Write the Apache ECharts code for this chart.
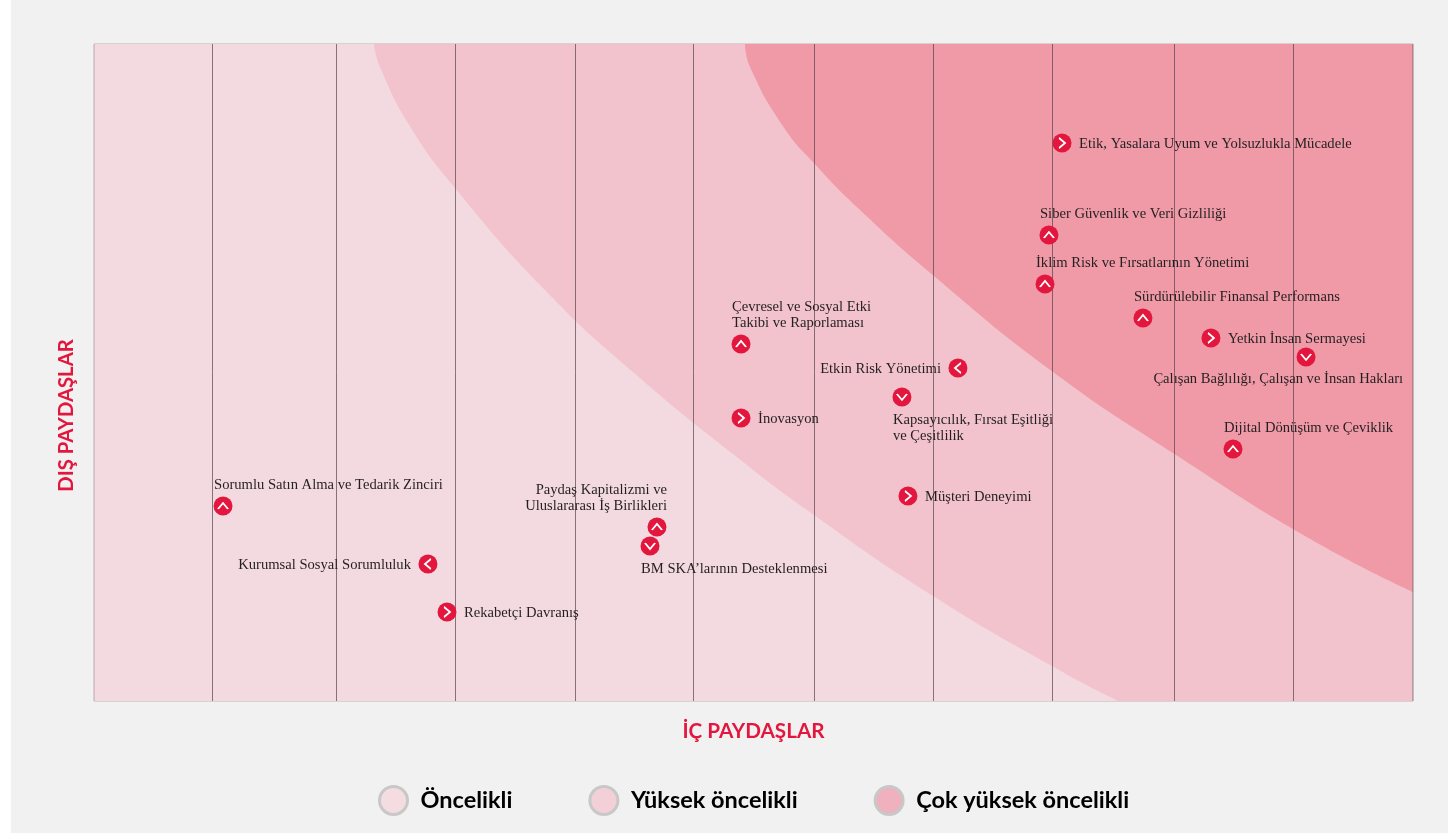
<!DOCTYPE html>
<html lang="tr">
<head>
<meta charset="utf-8">
<title>Öncelikli konular matrisi</title>
<style>
    html, body { margin: 0; padding: 0; background: #fff; overflow: hidden; }
    #mainEchart { position: absolute; left: 11px; top: 0; width: 1437px; height: 833px; }
</style>
<script src="https://cdn.jsdelivr.net/npm/echarts@6/dist/echarts.min.js"></script>
</head>
<body>
<div id="mainEchart"></div>
<script>
// konu listesi
var topicNames = [
    'Etik, Yasalara Uyum ve Yolsuzlukla Mücadele', 'Siber Güvenlik ve Veri Gizliliği',
    'İklim Risk ve Fırsatlarının Yönetimi', 'Sürdürülebilir Finansal Performans',
    'Yetkin İnsan Sermayesi', 'Çalışan Bağlılığı, Çalışan ve İnsan Hakları',
    'Dijital Dönüşüm ve Çeviklik', 'Çevresel ve Sosyal Etki\nTakibi ve Raporlaması',
    'Etkin Risk Yönetimi', 'Kapsayıcılık, Fırsat Eşitliği\nve Çeşitlilik',
    'İnovasyon', 'Müşteri Deneyimi', 'Sorumlu Satın Alma ve Tedarik Zinciri',
    'Paydaş Kapitalizmi ve\nUluslararası İş Birlikleri', 'BM SKA’larının Desteklenmesi',
    'Kurumsal Sosyal Sorumluluk', 'Rekabetçi Davranış'
];
var topicInternal = [8.073, 7.964, 7.931, 8.748, 9.315, 10.108, 9.499, 5.396, 7.205, 6.738, 5.396, 6.788, 1.076, 4.695, 4.637, 2.785, 2.944];
var topicExternal = [6.795, 5.674, 5.078, 4.664, 4.42, 4.189, 3.068, 4.347, 4.055, 3.702, 3.446, 2.496, 2.374, 2.119, 1.887, 1.668, 1.084];
var topicTrend = ['right', 'up', 'up', 'up', 'right', 'down', 'up', 'up', 'left', 'down', 'right', 'right', 'up', 'up', 'down', 'left', 'right'];
var topicLabelSide = ['right', 'above', 'above', 'above', 'right', 'belowFar', 'above', 'above', 'left', 'below', 'right', 'right', 'above', 'aboveEnd', 'below', 'left', 'right'];

// bolge sinirlari, son nokta grafigin altina iner ve kirpilir
var highBoundaryX = [2.335, 2.385, 2.635, 3.011, 3.761, 4.495, 5.329, 6.004, 6.997, 7.989, 8.54, 11];
var highBoundaryY = [8, 7.72, 7, 6.247, 5.005, 4.006, 3.008, 2.265, 1.279, 0.426, 0, -1.79];
var topBoundaryX = [5.429, 5.471, 5.746, 6.004, 6.371, 7.005, 7.998, 8.998, 10.158, 11];
var topBoundaryY = [8, 7.72, 7, 6.551, 6.003, 5.175, 4.006, 3.02, 1.96, 1.327];

// dikey cizgiler esit aralikli degil
var verticalLines = [0.9945, 2.0224, 3.0148, 4.0052, 4.9996, 6.0087, 7.0011, 7.9935, 9.011, 10.0034];
var levelNames = ['Öncelikli', 'Yüksek öncelikli', 'Çok yüksek öncelikli'];

function zipPoints(xs, ys) {
    var points = [];
    for (let i = 0; i < xs.length; i++) {
        points.push([xs[i], ys[i]]);
    }
    return points;
}

function labelFor(side) {
    var sides = {
        right: { align: 'left', verticalAlign: 'middle', offset: [17, 1] },
        left: { align: 'right', verticalAlign: 'middle', offset: [-17, 1] },
        above: { align: 'left', verticalAlign: 'bottom', offset: [-9, -13] },
        aboveEnd: { align: 'right', verticalAlign: 'bottom', offset: [10, -13] },
        below: { align: 'left', verticalAlign: 'top', offset: [-9, 15] },
        belowFar: { align: 'right', verticalAlign: 'top', offset: [97, 14] }
    };
    return Object.assign({ show: true, position: 'inside' }, sides[side]);
}

var trendRotate = { up: 0, left: 90, down: 180, right: -90 };
var circleData = [];
var chevronData = [];
for (let i = 0; i < topicNames.length; i++) {
    circleData.push({
        name: topicNames[i],
        value: [topicInternal[i], topicExternal[i]],
        label: labelFor(topicLabelSide[i])
    });
    chevronData.push({
        value: [topicInternal[i], topicExternal[i]],
        symbolRotate: trendRotate[topicTrend[i]]
    });
}

function areaSeries(name, data, origin, color, z) {
    return {
        name: name,
        type: 'line',
        data: data,
        z: z,
        smooth: 0.5,
        symbol: 'none',
        silent: true,
        lineStyle: { width: 0 },
        itemStyle: { color: color },
        areaStyle: { color: color, opacity: 1, origin: origin }
    };
}

var myChart = echarts.init(document.getElementById('mainEchart'));

var option = {
    backgroundColor: '#f1f1f1',
    animation: false,
    grid: { left: 83, right: 35, top: 44, bottom: 132 },
    legend: {
        left: 367,
        top: 785,
        padding: 0,
        itemWidth: 28,
        itemHeight: 28,
        itemGap: 76,
        selectedMode: false,
        textStyle: { fontFamily: 'Lato', fontWeight: 'bold', fontSize: 23.5, color: '#000', padding: [0, 0, 0, 8] },
        data: [
            { name: levelNames[0], icon: 'circle', itemStyle: { color: '#f4dce1', borderColor: '#c8c8c8', borderWidth: 3 } },
            { name: levelNames[1], icon: 'circle', itemStyle: { color: '#f3d0d7', borderColor: '#c8c8c8', borderWidth: 3 } },
            { name: levelNames[2], icon: 'circle', itemStyle: { color: '#eeb1bd', borderColor: '#c8c8c8', borderWidth: 3 } }
        ]
    },
    xAxis: {
        type: 'value',
        min: 0,
        max: 11,
        interval: 1,
        name: 'İÇ PAYDAŞLAR',
        nameLocation: 'middle',
        nameGap: 20,
        nameTextStyle: { fontFamily: 'Lato', fontWeight: 'bold', fontSize: 20.7, color: '#e3173e' },
        axisLine: { show: false },
        axisTick: { show: false },
        axisLabel: { show: false },
        splitLine: { show: false }
    },
    yAxis: {
        type: 'value',
        min: 0,
        max: 8,
        interval: 1,
        name: 'DIŞ PAYDAŞLAR',
        nameLocation: 'middle',
        nameGap: 18,
        nameTextStyle: { fontFamily: 'Lato', fontWeight: 'bold', fontSize: 20.3, color: '#e3173e', padding: [0, 86, 0, 0] },
        axisLine: { show: false },
        axisTick: { show: false },
        axisLabel: { show: false },
        splitLine: { show: true, z: 5, lineStyle: { color: 'rgba(120,90,95,0.28)', width: 1.5 } }
    },
    series: [
        areaSeries(levelNames[0], [[0, 8], [11, 8]], 'start', '#f3dae0', 1),
        areaSeries(levelNames[1], zipPoints(highBoundaryX, highBoundaryY), 'end', '#f3c3cd', 2),
        areaSeries(levelNames[2], zipPoints(topBoundaryX, topBoundaryY), 'end', '#f09aa8', 3),
        {
            type: 'line',
            data: [],
            z: 6,
            silent: true,
            markLine: {
                silent: true,
                symbol: 'none',
                label: { show: false },
                animation: false,
                lineStyle: { type: 'solid', color: 'rgba(70,60,65,0.65)', width: 1 },
                data: verticalLines.map(function (v) { return { xAxis: v }; }).concat([
                    { xAxis: 0, lineStyle: { type: 'solid', color: 'rgba(120,90,95,0.3)', width: 1.5 } },
                    { xAxis: 11, lineStyle: { type: 'solid', color: 'rgba(70,60,65,0.4)', width: 1.5 } }
                ])
            }
        },
        {
            type: 'scatter',
            data: circleData,
            z: 7,
            silent: true,
            symbol: 'circle',
            symbolSize: 19,
            itemStyle: { color: '#e3173e', opacity: 1 },
            label: {
                show: true,
                formatter: '{b}',
                fontFamily: 'Liberation Serif',
                fontSize: 14.6,
                lineHeight: 16,
                color: '#231f20'
            }
        },
        {
            // beyaz ok isareti
            type: 'scatter',
            data: chevronData,
            z: 8,
            silent: true,
            symbol: 'path://M0,6 L5,0 L10,6',
            symbolSize: [10, 6],
            itemStyle: { color: 'rgba(0,0,0,0)', borderColor: '#fff', borderWidth: 1.6, opacity: 1 }
        }
    ]
};

myChart.setOption(option);
</script>
</body>
</html>
